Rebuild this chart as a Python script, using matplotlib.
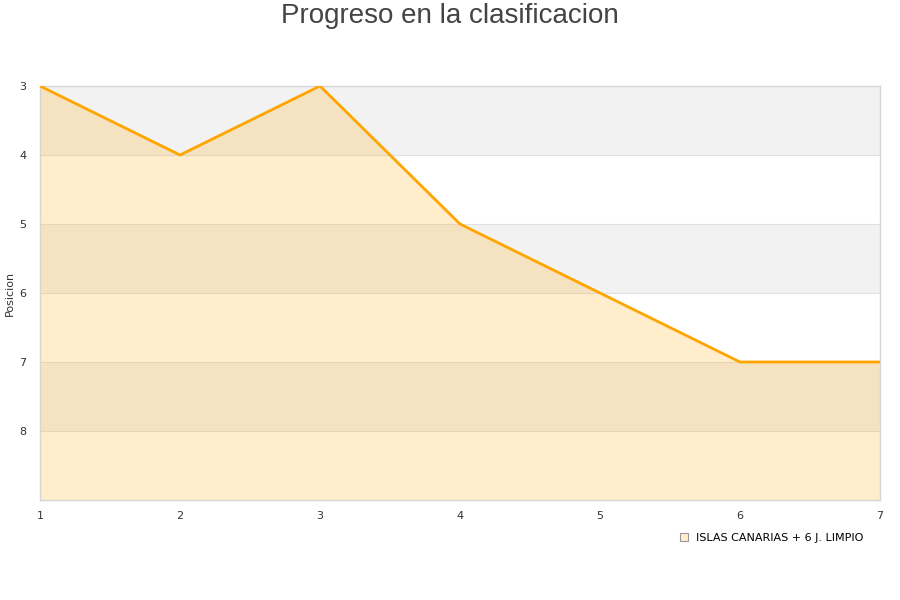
import matplotlib.pyplot as plt
from matplotlib.lines import Line2D

# Progress in the standings per matchday
jornadas = [1, 2, 3, 4, 5, 6, 7]
posicion = [3, 4, 3, 5, 6, 7, 7]
serie = "ISLAS CANARIAS + 6 J. LIMPIO"

y_min, y_max = 3, 9

fig = plt.figure(figsize=(9, 6), dpi=100)
ax = fig.add_axes([40 / 900, 100 / 600, 840 / 900, 414 / 600])

# alternating background bands
for lo in range(y_min, y_max, 2):
    ax.axhspan(lo, lo + 1, color="#f2f2f2", zorder=0, lw=0)
for v in range(y_min + 1, y_max):
    ax.axhline(v, color="#e0e0e0", lw=0.8, zorder=1)

ax.fill_between(jornadas, posicion, y_max, color="#ffa500", alpha=0.2, lw=0, zorder=2)
ax.plot(jornadas, posicion, color="#ffa500", lw=2, zorder=3)

ax.set_xlim(1, 7)
ax.set_ylim(y_max, y_min)
ax.set_xticks(jornadas)
ax.set_yticks(range(y_min, y_max))
ax.tick_params(length=0, labelsize=8, colors="#333333", pad=8)
ax.tick_params(axis="y", pad=10)
for s in ax.spines.values():
    s.set_color("#d6d6d6")
    s.set_linewidth(1)

ax.set_ylabel("Posicion", fontsize=8, color="#333333")
ax.yaxis.set_label_coords(-25 / 840, 0.5)
fig.suptitle("Progreso en la clasificacion", fontsize=20, color="#444444",
             family="Liberation Sans", y=0.995)

handle = Line2D([], [], marker="s", linestyle="none", markersize=6,
                markerfacecolor="#ffedcc", markeredgecolor="#999999", markeredgewidth=0.8)
fig.legend([handle], [serie], loc="center", bbox_to_anchor=(771 / 900, 1 - 538 / 600),
           frameon=False, fontsize=8, handletextpad=0.6, handlelength=1)

fig.savefig("out.png", dpi=100)
